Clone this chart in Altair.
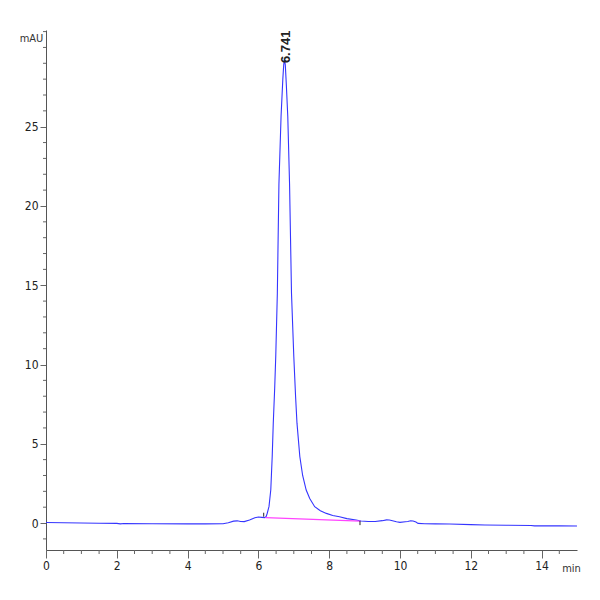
import altair as alt
import pandas as pd

# Chromatogram trace (retention time in min, absorbance in mAU)
time_min = [0.0, 0.5, 1.0, 1.5, 2.0, 2.1, 2.2, 3.0, 4.0, 4.5, 5.0, 5.15, 5.3, 5.4, 5.5,
            5.6, 5.75, 5.9, 6.0, 6.1, 6.18, 6.22, 6.25, 6.3, 6.35, 6.39, 6.42, 6.46,
            6.49, 6.535, 6.58, 6.64, 6.69, 6.715, 6.735, 6.76, 6.79, 6.83, 6.88, 6.935,
            7.0, 7.05, 7.09, 7.17, 7.25, 7.35, 7.45, 7.59, 7.75, 7.92, 8.1, 8.29, 8.5,
            8.76, 8.9, 9.1, 9.3, 9.5, 9.62, 9.7, 9.76, 9.9, 10.0, 10.15, 10.22, 10.3,
            10.37, 10.45, 10.51, 10.7, 11.0, 11.4, 12.0, 12.4, 13.0, 13.7, 13.8, 14.0,
            14.5, 15.0]
signal_mau = [0.03, 0.02, 0.0, -0.01, -0.02, -0.05, -0.03, -0.04, -0.05, -0.05, -0.04,
              0.02, 0.12, 0.14, 0.1, 0.09, 0.19, 0.33, 0.38, 0.36, 0.34, 0.42, 0.62,
              1.05, 2.1, 4.2, 6.3, 8.5, 10.5, 14.5, 21.4, 25.65, 28.0, 28.9, 29.25, 28.9,
              27.6, 25.65, 21.4, 14.5, 10.5, 8.0, 6.3, 4.2, 3.0, 2.08, 1.55, 1.03, 0.78,
              0.61, 0.48, 0.4, 0.28, 0.19, 0.13, 0.1, 0.1, 0.15, 0.2, 0.19, 0.16, 0.08,
              0.04, 0.08, 0.1, 0.14, 0.13, 0.06, -0.02, -0.04, -0.05, -0.06, -0.1, -0.12,
              -0.14, -0.15, -0.18, -0.17, -0.18, -0.19]

# Integration baseline (pink) and start/end markers
base_time = [6.2, 8.88]
base_mau = [0.34, 0.12]
marker_time = [6.15, 8.87]
marker_lo = [0.4, -0.13]
marker_hi = [0.65, 0.13]

# Peak annotation
peak_time = [6.741]
peak_mau = [29.2]
peak_label = ["6.741"]

# Axis ticks
y_major = [0, 5, 10, 15, 20, 25]
y_minor = [v for v in range(-1, 32) if v % 5 != 0] + [30]
x_major = [0, 2, 4, 6, 8, 10, 12, 14]
x_minor = [i * 0.5 for i in range(0, 30) if (i * 0.5) % 2 != 0]

trace = pd.DataFrame({"t": time_min, "v": signal_mau})
base = pd.DataFrame({"t": base_time, "v": base_mau})
markers = pd.DataFrame({"t": marker_time, "lo": marker_lo, "hi": marker_hi})
peak = pd.DataFrame({"t": peak_time, "v": peak_mau, "label": peak_label})
ymin_df = pd.DataFrame({"v": y_minor})
xmin_df = pd.DataFrame({"t": x_minor})

FONT = "Liberation Sans Narrow, DejaVu Sans Condensed, Liberation Sans, sans-serif"
W, H = 531, 520

xscale = alt.Scale(domain=[0, 15], nice=False, zero=False)
yscale = alt.Scale(domain=[-1.7, 31.1], nice=False, zero=False)

xaxis = alt.Axis(
    values=x_major, tickSize=8,
    grid=False, domainColor="#555", tickColor="#666", labelColor="#222",
    labelFont=FONT, labelFontSize=12, labelPadding=2, labelFlush=False,
    title="min", titleFont=FONT, titleFontSize=11, titleFontWeight="normal",
    titleColor="#333", titleAnchor="end", titleAlign="center", titleBaseline="middle",
    titleX=525, titleY=18,
)
yaxis = alt.Axis(
    values=y_major, tickSize=6,
    grid=False, domainColor="#555", tickColor="#666", labelColor="#222",
    labelFont=FONT, labelFontSize=12, labelPadding=2,
    title="mAU", titleFont=FONT, titleFontSize=11, titleFontWeight="normal",
    titleColor="#333", titleAngle=0, titleAlign="center", titleBaseline="middle",
    titleX=-15, titleY=8,
)

line = alt.Chart(trace).mark_line(color="#3535ff", strokeWidth=1.1).encode(
    x=alt.X("t:Q", scale=xscale, axis=xaxis),
    y=alt.Y("v:Q", scale=yscale, axis=yaxis),
)

y_minor_ticks = alt.Chart(ymin_df).mark_rule(color="#666", strokeWidth=1).encode(
    y=alt.Y("v:Q", scale=yscale), x=alt.value(-3), x2=alt.value(0)
)
x_minor_ticks = alt.Chart(xmin_df).mark_rule(color="#666", strokeWidth=1).encode(
    x=alt.X("t:Q", scale=xscale), y=alt.value(H), y2=alt.value(H + 4)
)

baseline = alt.Chart(base).mark_line(color="#ff44ff", strokeWidth=1.2).encode(
    x=alt.X("t:Q", scale=xscale), y=alt.Y("v:Q", scale=yscale)
)

ticks = alt.Chart(markers).mark_rule(color="#222", strokeWidth=1).encode(
    x=alt.X("t:Q", scale=xscale), y=alt.Y("lo:Q", scale=yscale), y2="hi:Q"
)

label = alt.Chart(peak).mark_text(
    angle=270, align="left", baseline="middle", dx=-3, dy=1,
    font="Liberation Sans, sans-serif", fontSize=13, fontWeight="bold", color="#222",
).encode(x=alt.X("t:Q", scale=xscale), y=alt.Y("v:Q", scale=yscale), text="label:N")

chart = alt.layer(line, y_minor_ticks, x_minor_ticks, baseline, ticks, label).properties(
    width=W, height=H,
    autosize="none",
    padding={"left": 38, "top": 22, "right": 15, "bottom": 35},
    view=alt.ViewBackground(strokeOpacity=0, strokeWidth=0),
).configure_view(strokeOpacity=0, strokeWidth=0).configure(background="white")

chart.save("out.html", embed_options={"renderer": "svg", "actions": False})
